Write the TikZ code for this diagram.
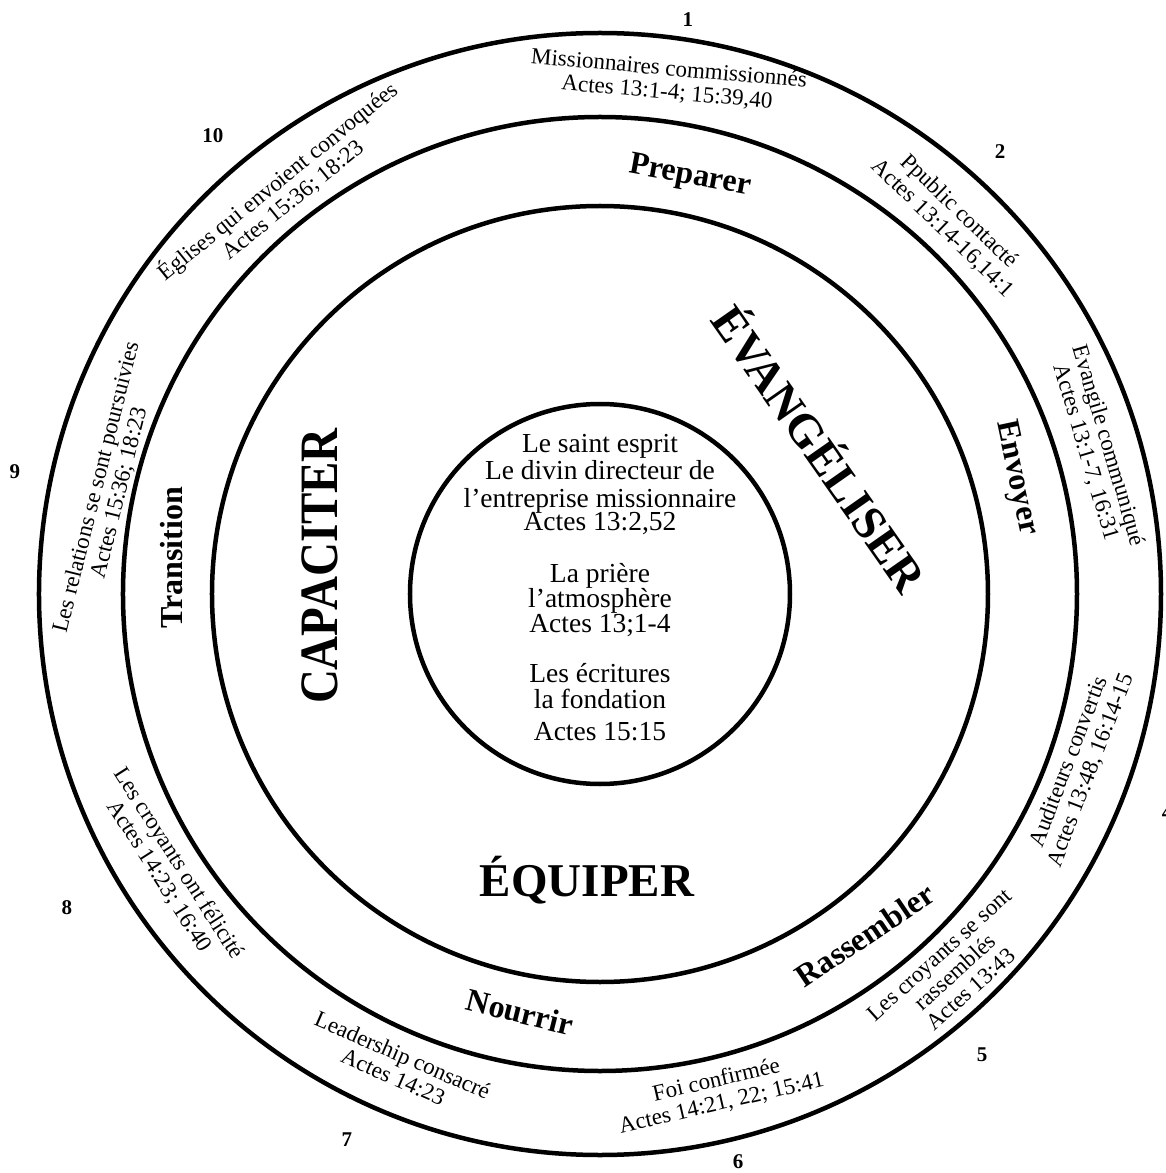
\documentclass[tikz,border=0pt]{standalone}
\usepackage{fontspec}
\setmainfont{Liberation Serif}
\usepackage{tikz}

\begin{document}
\begin{tikzpicture}[
        x=1pt, y=1pt,
        % Styles des anneaux et des textes
        ring/.style={draw=black, line width=4.5pt},
        verse/.style={align=center, inner sep=0pt, font=\fontsize{23}{23.5}\selectfont},
        phase/.style={inner sep=0pt, font=\bfseries\fontsize{32}{32}\selectfont},
        pillar/.style={inner sep=0pt, font=\bfseries\fontsize{47}{47}\selectfont},
        num/.style={inner sep=0pt, font=\bfseries\fontsize{21}{21}\selectfont},
        centre/.style={anchor=base, inner sep=0pt, font=\fontsize{27.5}{26}\selectfont}
    ]

    \useasboundingbox (-600,-579) rectangle (565,594);

    % Anneaux concentriques
    \foreach \r in {190,388,477,561}
        \draw[ring] (0,0) circle[radius=\r];

    % Coeur du cycle
    \foreach \txt/\yy [count=\i] in {Le saint esprit/141, Le divin directeur de/114,
        l’entreprise missionnaire/87, {Actes 13:2,52}/64,
        La prière/12, l’atmosphère/-13, Actes 13;1-4/-38,
        Les écritures/-88, la fondation/-114, Actes 15:15/-146}
        \node[centre] (c\i) at (0,\yy) {\txt};

    % Les trois grands axes
    \node[pillar, rotate=-55] (evang) at (222,147) {ÉVANGÉLISER};
    \node[pillar, rotate=90] (capac) at (-280,28) {\scalebox{1}[1.15]{CAPACITER}};
    \node[pillar] (equip) at (-13,-286) {ÉQUIPER};

    % Les phases
    \node[phase, rotate=-10.5] (preparer) at (90,417) {Preparer};
    \node[phase, rotate=-78] (envoyer) at (416,116) {Envoyer};
    \node[phase, rotate=34] (rassembler) at (265,-341) {Rassembler};
    \node[phase, rotate=-14] (nourrir) at (-80,-418) {Nourrir};
    \node[phase, rotate=90] (transition) at (-428,36) {Transition};

    % Les dix étapes
    \node[verse, rotate=-5] (v1) at (68,513) {Missionnaires commissionnés\\Actes 13:1-4; 15:39,40};
    \node[verse, rotate=-44] (v2) at (351,374) {Ppublic contacté\\Actes 13:14-16,14:1};
    \node[verse, rotate=-73.5] (v3) at (497,145) {Evangile communiqué\\Actes 13:1-7, 16:31};
    \node[verse, rotate=69] (v4) at (480,-172) {Auditeurs convertis\\Actes 13:48, 16:14-15};
    \node[verse, rotate=42] (v5) at (355,-378) {Les croyants se sont\\rassemblés\\Actes 13:43};
    \node[verse, rotate=13] (v6) at (119,-498) {Foi confirmée\\Actes 14:21, 22; 15:41};
    \node[verse, rotate=-23.5] (v7) at (-202,-472) {Leadership consacré\\Actes 14:23};
    \node[verse, rotate=-57.4] (v8) at (-431,-276) {Les croyants ont félicité\\Actes 14:23; 16:40};
    \node[verse, rotate=76] (v9) at (-492,104) {Les relations se sont poursuivies\\Actes 15:36; 18:23};
    \node[verse, rotate=39] (v10) at (-315,404) {Églises qui envoient convoquées\\Actes 15:36; 18:23};

    % Numéros des étapes
    \node[num] (n1) at (88,574) {1};
    \node[num] (n2) at (400,442) {2};
    \node[num] (n4) at (567,-219) {4};
    \node[num] (n5) at (382,-461) {5};
    \node[num] (n6) at (138,-568) {6};
    \node[num] (n7) at (-253,-546) {7};
    \node[num] (n8) at (-533,-314) {8};
    \node[num] (n9) at (-585,122) {9};
    \node[num] (n10) at (-387,458) {10};

\end{tikzpicture}
\end{document}
